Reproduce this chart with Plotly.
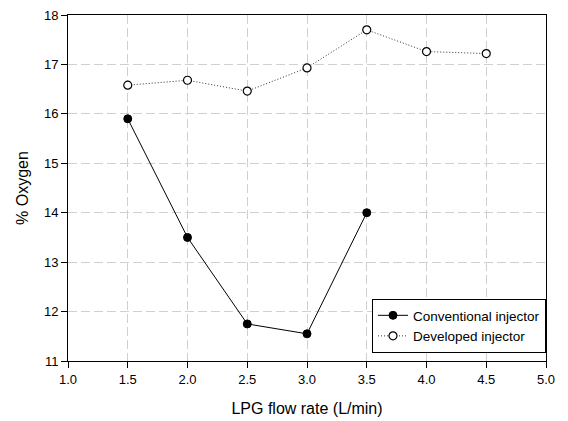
import plotly.graph_objects as go

conv_x = [1.5, 2.0, 2.5, 3.0, 3.5]
conv_y = [15.9, 13.5, 11.75, 11.55, 14.0]
dev_x = [1.5, 2.0, 2.5, 3.0, 3.5, 4.0, 4.5]
dev_y = [16.58, 16.68, 16.46, 16.93, 17.7, 17.26, 17.22]

x_ticks = [1.0, 1.5, 2.0, 2.5, 3.0, 3.5, 4.0, 4.5, 5.0]
y_ticks = [11, 12, 13, 14, 15, 16, 17, 18]

fig = go.Figure()
fig.add_trace(go.Scatter(
    x=conv_x, y=conv_y, mode="lines+markers", name="Conventional injector",
    line=dict(color="black", width=1),
    marker=dict(symbol="circle", size=8, color="black", line=dict(color="black", width=1)),
))
fig.add_trace(go.Scatter(
    x=dev_x, y=dev_y, mode="lines+markers", name="Developed injector",
    line=dict(color="#333333", width=1, dash="1px,2px"),
    marker=dict(symbol="circle", size=8, color="white", line=dict(color="black", width=1.2)),
))

font = "Liberation Sans, Arial, sans-serif"
axis_common = dict(
    showline=True, linecolor="black", linewidth=1, mirror=True,
    ticks="outside", ticklen=6, tickcolor="black", tickwidth=1,
    showgrid=True, gridcolor="#d0d0d0", griddash="9px,4px", gridwidth=1,
    zeroline=False, automargin=False,
    tickfont=dict(family=font, size=13, color="black"),
)
fig.update_xaxes(
    range=[1.0, 5.0], tickvals=x_ticks, ticktext=[f"{v:.1f}" for v in x_ticks],
    title=dict(text="LPG flow rate (L/min)", font=dict(family=font, size=16, color="black"), standoff=17),
    **axis_common,
)
fig.update_yaxes(
    range=[11, 18], tickvals=y_ticks, ticktext=[str(v) for v in y_ticks],
    title=dict(text="% Oxygen", font=dict(family=font, size=16, color="black"), standoff=11),
    **axis_common,
)
fig.update_layout(
    width=568, height=421,
    margin=dict(l=68, r=22, t=15, b=60, autoexpand=False),
    paper_bgcolor="white", plot_bgcolor="white",
    font=dict(family=font, size=13, color="black"),
    legend=dict(
        x=1.0, xanchor="right", y=0.023, yanchor="bottom",
        bgcolor="white", bordercolor="black", borderwidth=1,
        font=dict(family=font, size=13.5, color="black"),
        itemwidth=30, tracegroupgap=0,
    ),
    showlegend=True,
)
fig.write_html("out.html")
